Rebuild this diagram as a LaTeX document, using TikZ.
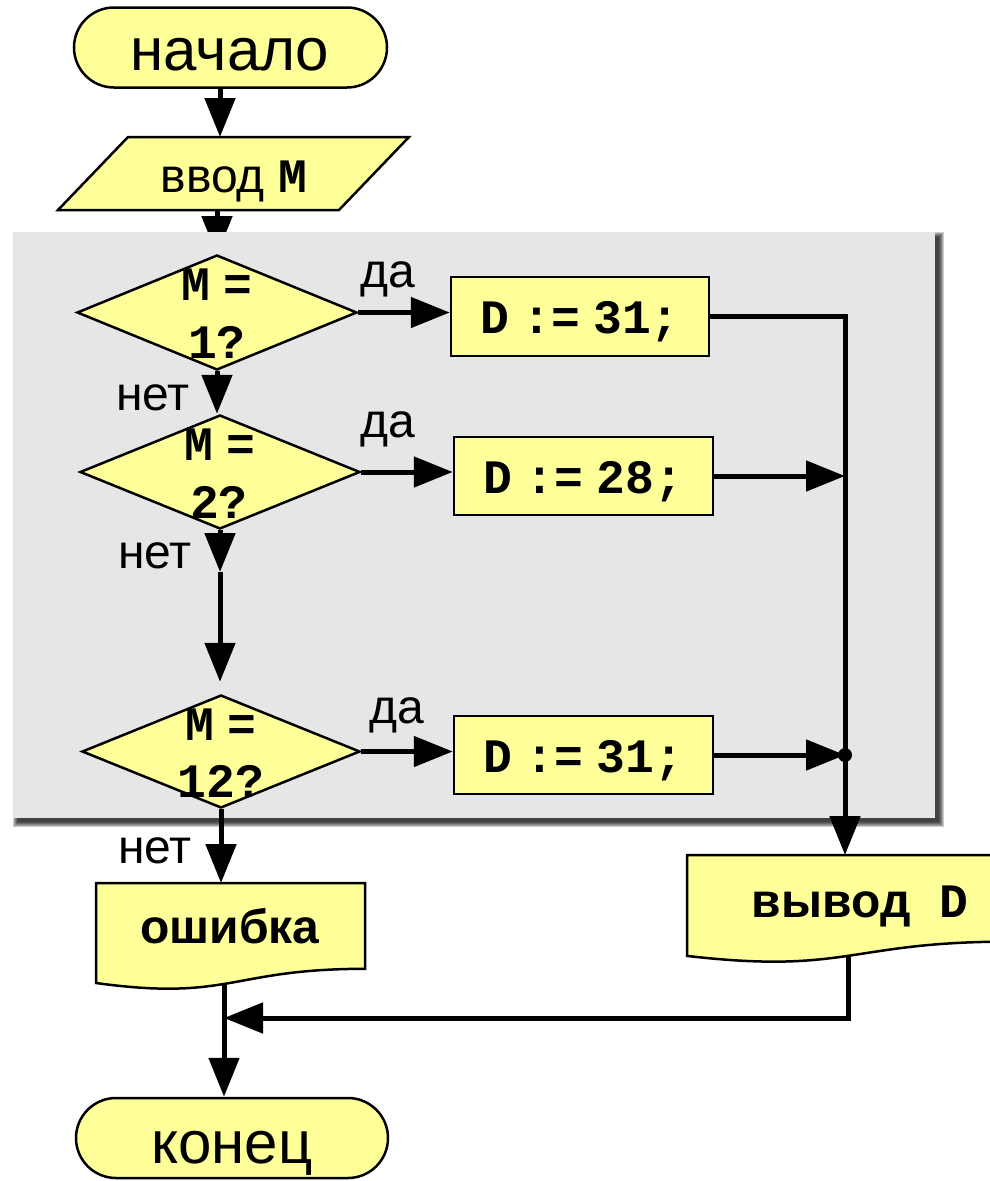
\documentclass[tikz,border=0pt]{standalone}
\usepackage{fontspec}
\setmainfont{Liberation Sans}
\newfontfamily\cmono{Liberation Mono}
\usetikzlibrary{arrows.meta,shapes.geometric,shapes.misc}
\definecolor{fillY}{HTML}{FFFF99}
\definecolor{panelG}{HTML}{E6E6E6}
\begin{document}
\begin{tikzpicture}[x=1pt,y=-1pt,
  shp/.style={draw=black, fill=fillY, line width=2.5pt},
  term/.style={shp, rounded rectangle, minimum width=313pt, minimum height=80pt, inner sep=0pt},
  dia/.style={shp, diamond, inner sep=0pt},
  procbox/.style={shp, rectangle, minimum width=258pt, minimum height=79pt, inner sep=0pt},
  ghost/.style={rectangle, inner sep=0pt, outer sep=0pt},
  conn/.style={line width=5pt, -{Triangle[width=30pt,length=39pt]}},
  txt/.style={font=\fontsize{48}{58}\selectfont, anchor=base, inner sep=0pt},
  bigtxt/.style={font=\fontsize{60}{70}\selectfont, anchor=base, inner sep=0pt},
]
\useasboundingbox (0,0) rectangle (990,1181);

% start terminal
\node[term] (start) at (230.5,47.5) {};
\node[bigtxt] (startT) at (230,70) {начало};

% input parallelogram
\draw[shp] (128,137) -- (409,137) -- (339,210) -- (58,210) -- cycle;
\coordinate (inpT) at (220,137);
\coordinate (inpB) at (217,210);
\node[txt] (inpTxt) at (234,192) {ввод {\cmono\bfseries M}};

\draw[conn] (start.south -| inpT) -- (inpT);

% arrow into the panel (hidden under it)
\coordinate (d1top) at (217,255);
\draw[conn] (inpB) -- (d1top);

% panel with shadow
\foreach \k in {0,1,2,3,4,5}
  \fill[black, opacity=0.2] ({18-\k},{237-\k}) rectangle ({939+\k},{822+\k});
\fill[panelG] (13,232) rectangle (935,818);

% decisions
\node[dia, minimum width=280pt, minimum height=115pt] (d1) at (217,312.5) {};
\node[dia, minimum width=280pt, minimum height=114pt] (d2) at (220,472) {};
\node[dia, minimum width=278pt, minimum height=113pt] (d3) at (221,751.5) {};

\node[txt] (d1a) at (217,300) {{\cmono\bfseries M} {\cmono\bfseries =}};
\node[txt] (d1b) at (217,358) {{\cmono\bfseries 1?}};
\node[txt] (d2a) at (220,460) {{\cmono\bfseries M} {\cmono\bfseries =}};
\node[txt] (d2b) at (219,518) {{\cmono\bfseries 2?}};
\node[txt] (d3a) at (221,740) {{\cmono\bfseries M} {\cmono\bfseries =}};
\node[txt] (d3b) at (221,797) {{\cmono\bfseries 12?}};

% process boxes
\node[procbox] (b1) at (580,316.5) {};
\node[procbox, minimum width=259pt, minimum height=78pt] (b2) at (583.5,476) {};
\node[procbox, minimum width=259pt, minimum height=78pt] (b3) at (583.5,755) {};
\node[txt] (b1t) at (580,333) {{\cmono\bfseries D} {\cmono\bfseries :=} {\cmono\bfseries 31;}};
\node[txt] (b2t) at (583.5,493) {{\cmono\bfseries D} {\cmono\bfseries :=} {\cmono\bfseries 28;}};
\node[txt] (b3t) at (583.5,772) {{\cmono\bfseries D} {\cmono\bfseries :=} {\cmono\bfseries 31;}};

% labels
\node[txt] (yes1) at (388,287) {да};
\node[txt] (yes2) at (388,437) {да};
\node[txt] (yes3) at (397,723) {да};
\node[txt] (no1) at (153,410) {нет};
\node[txt] (no2) at (155,568) {нет};
\node[txt] (no3) at (155,863) {нет};

% yes connectors
\draw[conn] (d1.east) -- (d1.east -| b1.west);
\draw[conn] (d2.east) -- (d2.east -| b2.west);
\draw[conn] (d3.east) -- (d3.east -| b3.west);

% no connectors
\coordinate (mid) at (220,572);
\draw[conn] (d1.south) -- (d1.south |- d2.north);
\draw[conn] (d2.south) -- (mid);
\draw[conn, shorten >=12pt] (mid) -- (mid |- d3.north);

% document shapes
\draw[shp] (96,883) -- (365,883) -- (365,968.8)
  .. controls (230.5,968.8) and (230.5,1001.5) .. (96,983) -- cycle;
\node[ghost, minimum width=269pt, minimum height=86pt] (err) at (230.5,926) {};
\node[txt, font=\fontsize{48}{58}\selectfont\bfseries] (errT) at (230,943) {ошибка};

\draw[shp] (687,855) -- (1010,855) -- (1010,941.6)
  .. controls (848.5,941.6) and (848.5,974.6) .. (687,955.9) -- cycle;
\node[ghost, minimum width=323pt, minimum height=86pt] (out) at (848.5,898) {};
\node[txt, font=\fontsize{48}{58}\selectfont\bfseries] (outT) at (860,917) {вывод{\cmono\bfseries\ D}};

\draw[conn] (d3.south) -- (d3.south |- err.north);

% right collector line
\coordinate (outTop) at (845,855);
\coordinate (outBot) at (848,956);
\draw[conn] (b1.east) -| (outTop);
\draw[conn] (b2.east) -- (b2.east -| outTop);
\draw[conn] (b3.east) -- (b3.east -| outTop);
\fill (b3.east -| outTop) circle (7pt);

% end terminal
\node[term, minimum width=312pt] (end) at (232,1138) {};
\node[bigtxt] (endT) at (232,1163) {конец};

% bottom connectors
\coordinate (errBot) at (224,983);
\coordinate (joinPt) at (224,1018);
\draw[conn] (outBot) |- (joinPt);
\draw[conn] (errBot) -- (errBot |- end.north);
\end{tikzpicture}
\end{document}
